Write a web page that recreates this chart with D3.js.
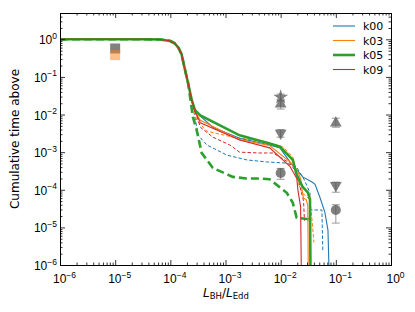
<!DOCTYPE html>
<html>
<head>
<meta charset="utf-8">
<script src="https://cdn.jsdelivr.net/npm/d3@7"></script>
<style>
  body { margin: 0; background: #fff; }
  svg { font-family: "DejaVu Sans", sans-serif; }
</style>
</head>
<body>
<svg width="415" height="312"></svg>
<script>
// Shared plateau + steep drop
const head = [[1e-6, 1.0], [3e-5, 1.0], [6.5e-5, 0.99], [1.0e-4, 0.9], [1.2e-4, 0.78],
  [1.4e-4, 0.6], [1.6e-4, 0.4], [1.8e-4, 0.18], [2.1e-4, 0.068], [2.45e-4, 0.024]];

// Solid curves
const k00 = [[2.8e-4, 0.012], [5.9e-4, 4.6e-3], [1.8e-3, 2.35e-3], [6.3e-3, 1.55e-3], [9.7e-3, 1.3e-3],
  [0.0147, 5.5e-4], [0.0196, 3.4e-4], [0.025, 2.2e-4], [0.037, 1.6e-4], [0.042, 1.4e-4],
  [0.051, 6.5e-5], [0.063, 2.6e-5], [0.072, 8.5e-6], [0.078, 1e-7]];
const k03 = [[2.8e-4, 0.012], [3.5e-4, 7e-3], [1.8e-3, 2.15e-3], [6.3e-3, 1.5e-3], [0.0147, 5.5e-4],
  [0.0196, 3.4e-4], [0.023, 2.0e-4], [0.024, 1.15e-4], [0.026, 6e-5], [0.029, 5.5e-5],
  [0.031, 3.8e-5], [0.032, 1e-7]];
const k05 = [[2.8e-4, 0.013], [3.5e-4, 9.5e-3], [1.8e-3, 2.8e-3], [6.3e-3, 1.7e-3], [9.7e-3, 1.4e-3],
  [0.0166, 6.2e-4], [0.0195, 2.5e-4], [0.025, 1.2e-4], [0.031, 8.5e-5], [0.034, 5.5e-5], [0.035, 1e-7]];
const k09 = [[2.8e-4, 0.012], [3.5e-4, 6e-3], [1.8e-3, 2.1e-3], [6.3e-3, 1.3e-3], [0.0147, 4.2e-4],
  [0.0196, 2.0e-4], [0.0205, 1e-4], [0.023, 3.5e-5], [0.024, 1e-7]];

// Dashed curves
const k00d = [[3.2e-4, 2.8e-3], [4.6e-4, 1.55e-3], [1.07e-3, 8.3e-4], [2.45e-3, 6.2e-4], [5.6e-3, 5.5e-4],
  [0.0128, 5.1e-4], [0.0195, 4.0e-4], [0.027, 1.8e-4], [0.034, 8.3e-5], [0.034, 2.9e-5],
  [0.056, 2.9e-5], [0.058, 2.5e-6]];
const k03d = [[3.0e-4, 7e-3], [4.6e-4, 3.6e-3], [1.37e-3, 2.5e-3], [5.6e-3, 1.85e-3], [0.011, 1.37e-3],
  [0.0166, 7.4e-4], [0.019, 3e-4], [0.0215, 1.3e-4], [0.025, 8e-5], [0.03, 6.5e-5],
  [0.034, 5.4e-5], [0.037, 1.6e-5], [0.04, 4e-6]];
const k05d = [[2.57e-4, 8.5e-3], [3.0e-4, 3.9e-3], [3.7e-4, 9.5e-4], [5.9e-4, 3.8e-4], [1.35e-3, 2.2e-4],
  [2.4e-3, 2.0e-4], [4.2e-3, 2.0e-4], [6.3e-3, 1.9e-4], [8.5e-3, 1.35e-4], [0.0129, 8.3e-5],
  [0.0166, 4.5e-5], [0.0195, 1.8e-5], [0.037, 1.6e-5]];
const k09d = [[3.5e-4, 4.6e-3], [5.9e-4, 2.5e-3], [1.2e-3, 1.55e-3], [1.8e-3, 1.0e-3], [4.2e-3, 9.5e-4],
  [7.2e-3, 9.5e-4], [9.7e-3, 7.4e-4], [0.0147, 5.1e-4], [0.0196, 2.8e-4], [0.0224, 1.2e-4],
  [0.026, 5e-5], [0.027, 1.5e-5]];

const names = ["k00", "k03", "k05", "k09"];
const colors = ["#1f77b4", "#ff7f0e", "#2ca02c", "#d62728"];

// Observational points
const obsX = [1e-2, 1e-2, 1e-2, 1e-2, 1e-1, 1e-1, 1e-1];
const obsY = [0.029, 0.019, 3.2e-3, 2.8e-4, 5.9e-3, 1.3e-4, 2.9e-5];
const obsLo = [0.024, 0.014, 2.5e-3, 1.9e-4, 4.6e-3, 8.6e-5, 1.3e-5];
const obsHi = [0.035, 0.025, 4.0e-3, 3.7e-4, 8e-3, 1.6e-4, 4e-5];
const obsShape = ["star", "up", "down", "circle", "up", "down", "circle"];
const boxX = [1e-5, 1e-5];
const boxY = [0.57, 0.38];

const xTicks = [1e-6, 1e-5, 1e-4, 1e-3, 1e-2, 1e-1, 1];
const yTicks = [1e-6, 1e-5, 1e-4, 1e-3, 1e-2, 1e-1, 1];

const svg = d3.select("svg");
const mLeft = 60, mRight = 391, mTop = 13, mBottom = 265;

const x = d3.scaleLog().domain([1e-6, 1]).range([mLeft, mRight]);
const y = d3.scaleLog().domain([1e-6, 5]).range([mBottom, mTop]);

svg.append("clipPath").attr("id", "clip")
  .append("rect").attr("x", mLeft).attr("y", mTop).attr("width", mRight - mLeft).attr("height", mBottom - mTop);

const plot = svg.append("g").attr("clip-path", "url(#clip)");
const line = d3.line().x(d => x(d[0])).y(d => y(d[1]));

// dashed first, then solid
const dashed = [head.concat(k00d), head.concat(k03d), head.slice(0, 9).concat(k05d), head.concat(k09d)];
const solid = [head.concat(k00), head.concat(k03), head.concat(k05), head.concat(k09)];

dashed.forEach((s, i) => {
  plot.append("path").attr("d", line(s)).attr("fill", "none")
    .attr("stroke", colors[i])
    .attr("stroke-width", i === 2 ? 2.6 : 1)
    .attr("stroke-dasharray", i === 2 ? "8,4" : "3.5,2");
});
solid.forEach((s, i) => {
  plot.append("path").attr("d", line(s)).attr("fill", "none")
    .attr("stroke", colors[i])
    .attr("stroke-width", i === 2 ? 2.6 : 1.1);
});

// error bars + markers
const obs = plot.append("g");
obsX.forEach((v, i) => {
  const cx = x(v);
  obs.append("line").attr("x1", cx).attr("x2", cx).attr("y1", y(obsLo[i])).attr("y2", y(obsHi[i]))
    .attr("stroke", "#999").attr("stroke-width", 1);
  [obsLo[i], obsHi[i]].forEach(e => {
    obs.append("line").attr("x1", cx - 4).attr("x2", cx + 4).attr("y1", y(e)).attr("y2", y(e))
      .attr("stroke", "#999").attr("stroke-width", 1);
  });
  const sh = obsShape[i];
  const type = sh === "star" ? d3.symbolStar : sh === "circle" ? d3.symbolCircle : d3.symbolTriangle;
  const size = sh === "star" ? 70 : sh === "circle" ? 80 : 60;
  obs.append("path").attr("d", d3.symbol().type(type).size(size)())
    .attr("transform", `translate(${cx},${y(obsY[i])})` + (sh === "down" ? " rotate(180)" : ""))
    .attr("fill", "#555").attr("fill-opacity", 0.75);
});
boxX.forEach((v, i) => {
  plot.append("rect").attr("x", x(v) - 5).attr("y", y(boxY[i]) - 5).attr("width", 10).attr("height", 10)
    .attr("fill", i === 0 ? "#555" : "#ff7f0e").attr("fill-opacity", i === 0 ? 0.75 : 0.5);
});

// axes
function minorTicks(lo, hi) {
  const out = [];
  for (let e = lo; e < hi; e++) for (let m = 2; m < 10; m++) out.push(m * Math.pow(10, e));
  return out;
}
const xMinor = minorTicks(-6, 0);
const yMinor = minorTicks(-6, 1).filter(v => v < 5);

function drawAxis(axisFn, scale, ticks, minor, transform) {
  const g = svg.append("g").attr("transform", transform);
  g.call(axisFn(scale).tickValues(minor).tickSize(-2.5).tickFormat(""));
  const gm = svg.append("g").attr("transform", transform);
  gm.call(axisFn(scale).tickValues(ticks).tickSize(-5).tickFormat(""));
  [g, gm].forEach(a => {
    a.select(".domain").attr("stroke", "#000");
    a.selectAll(".tick line").attr("stroke", "#000").attr("stroke-width", 0.8);
  });
  g.select(".domain").remove();
  return gm;
}

const xa = drawAxis(d3.axisBottom, x, xTicks, xMinor, `translate(0,${mBottom})`);
drawAxis(d3.axisTop, x, xTicks, xMinor, `translate(0,${mTop})`);
const ya = drawAxis(d3.axisLeft, y, yTicks, yMinor, `translate(${mLeft},0)`);
drawAxis(d3.axisRight, y, yTicks, yMinor, `translate(${mRight},0)`);

function powLabel(sel, v) {
  const e = Math.round(Math.log10(v));
  sel.append("tspan").text("10");
  sel.append("tspan").attr("font-size", 8.5).attr("dy", -5.5).text(e < 0 ? "\u2212" + (-e) : e);
}
xa.selectAll(".tick text").remove();
ya.selectAll(".tick text").remove();
xa.selectAll(".tick").each(function (v) {
  const t = d3.select(this).append("text").attr("y", 18).attr("text-anchor", "middle")
    .attr("fill", "#000").attr("font-size", 12).attr("dx", 4);
  powLabel(t, v);
});
ya.selectAll(".tick").each(function (v) {
  const t = d3.select(this).append("text").attr("x", -3).attr("dy", 4.5).attr("text-anchor", "end")
    .attr("fill", "#000").attr("font-size", 12);
  powLabel(t, v);
});

// axis titles
const xl = svg.append("text").attr("x", 226).attr("y", 297).attr("text-anchor", "middle")
  .attr("font-size", 12).attr("fill", "#000");
xl.append("tspan").attr("font-style", "italic").text("L");
xl.append("tspan").attr("font-size", 8.5).attr("dy", 2).text("BH");
xl.append("tspan").attr("dy", -2).text("/");
xl.append("tspan").attr("font-style", "italic").text("L");
xl.append("tspan").attr("font-size", 8.5).attr("dy", 2).text("Edd");

svg.append("text").attr("transform", `translate(19,${(mTop + mBottom) / 2}) rotate(-90)`)
  .attr("text-anchor", "middle").attr("font-size", 12).attr("fill", "#000")
  .text("Cumulative time above");

// legend
const legend = svg.append("g").attr("transform", "translate(333,26)");
names.forEach((n, i) => {
  legend.append("line").attr("x1", 0).attr("x2", 22).attr("y1", i * 14.5).attr("y2", i * 14.5)
    .attr("stroke", colors[i]).attr("stroke-width", i === 2 ? 2.6 : 1.1);
  legend.append("text").attr("x", 30).attr("y", i * 14.5 + 4).attr("font-size", 11).text(n);
});
</script>
</body>
</html>
